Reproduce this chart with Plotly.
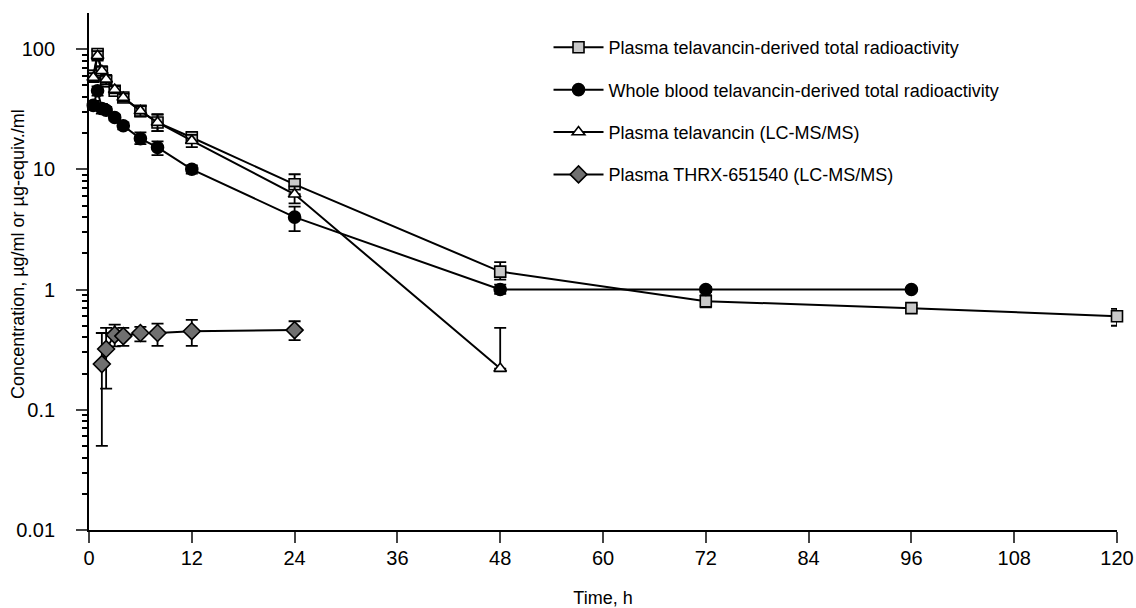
import plotly.graph_objects as go

# ---- data ----
t_plasma_tr = [0.5, 1, 1.5, 2, 3, 4, 6, 8, 12, 24, 48, 72, 96, 120]
plasma_tr = [60, 91, 64, 54, 45, 39.6, 30.6, 24.5, 18.4, 7.5, 1.41, 0.80, 0.70, 0.60]
plasma_tr_up = [6, 8, 6, 5, 3, 3, 3, 4.2, 2.1, 1.6, 0.28, 0.10, 0.04, 0.09]
plasma_tr_dn = [6, 8, 6, 5, 3, 3, 3, 3.7, 1.9, 1.3, 0.20, 0.09, 0.04, 0.10]

t_blood = [0.5, 1, 1.5, 2, 3, 4, 6, 8, 12, 24, 48, 72, 96]
blood_tr = [34, 45, 32, 31, 27, 23, 18, 15.2, 10, 4.0, 1.0, 1.0, 1.0]
blood_up = [3, 4, 3, 2, 1.5, 1.5, 2.3, 1.9, 0.8, 0.9, 0.1, 0.05, 0.02]
blood_dn = [3, 4, 3, 2, 1.5, 1.5, 1.8, 2.1, 0.8, 0.94, 0.08, 0.05, 0.02]

t_tel = [0.5, 1, 1.5, 2, 3, 4, 6, 8, 12, 24, 48]
plasma_tel = [58, 88, 66, 56, 46, 39.6, 30.6, 24.5, 17.3, 6.2, 0.22]
tel_up = [5, 8, 6, 5, 3, 3, 3, 4, 2, 1, 0.26]
tel_dn = [5, 8, 6, 5, 3, 3, 3, 3.7, 2, 1, 0]

t_thrx = [1.5, 2, 3, 4, 6, 8, 12, 24]
plasma_thrx = [0.24, 0.32, 0.42, 0.41, 0.435, 0.435, 0.45, 0.46]
thrx_up = [0.195, 0.16, 0.09, 0.07, 0.055, 0.085, 0.11, 0.085]
thrx_dn = [0.19, 0.17, 0.083, 0.07, 0.065, 0.095, 0.11, 0.08]

names = [
    "Plasma telavancin-derived total radioactivity",
    "Whole blood telavancin-derived total radioactivity",
    "Plasma telavancin (LC-MS/MS)",
    "Plasma THRX-651540 (LC-MS/MS)",
]

x_ticks = [0, 12, 24, 36, 48, 60, 72, 84, 96, 108, 120]
y_ticks = [0.01, 0.1, 1, 10, 100]
y_ticktext = ["0.01", "0.1", "1", "10", "100"]

y_title = "Concentration, µg/ml or µg-equiv./ml"
x_title = "Time, h"

FONT = "Arial, Liberation Sans, sans-serif"

series = [
    (t_plasma_tr, plasma_tr, plasma_tr_up, plasma_tr_dn, "square", "#c8c8c8", 11),
    (t_blood, blood_tr, blood_up, blood_dn, "circle", "#000000", 12),
    (t_tel, plasma_tel, tel_up, tel_dn, "triangle-up", "#ffffff", 11),
    (t_thrx, plasma_thrx, thrx_up, thrx_dn, "diamond", "#707070", 13),
]

fig = go.Figure()
for i, (t, y, up, dn, sym, fill, size) in enumerate(series):
    fig.add_trace(go.Scatter(
        x=t, y=y, name=names[i], mode="lines+markers",
        legendgroup=f"g{i}",
        line=dict(color="black", width=2),
        marker=dict(symbol=sym, size=size, color=fill,
                    line=dict(color="black", width=1.6)),
        error_y=dict(type="data", symmetric=False, array=up, arrayminus=dn,
                     color="black", thickness=1.8, width=6),
        cliponaxis=False,
    ))

fig.update_layout(
    width=1136, height=608,
    margin=dict(l=89, r=19, t=13, b=78, autoexpand=False),
    paper_bgcolor="white", plot_bgcolor="white",
    font=dict(family=FONT, size=18, color="black"),
    showlegend=True,
    legend=dict(x=0.447, y=0.969, xanchor="left", yanchor="top",
                traceorder="grouped", tracegroupgap=16,
                font=dict(family=FONT, size=18, color="black"),
                bgcolor="rgba(0,0,0,0)", itemwidth=50),
    xaxis=dict(range=[0, 120], tickvals=x_ticks, ticks="outside", ticklen=11,
               tickwidth=1.8, showline=True, linecolor="black", linewidth=1.8,
               showgrid=False, zeroline=False, automargin=False,
               tickfont=dict(size=20), ticklabelstandoff=-2,
               title=dict(text=x_title, font=dict(size=18), standoff=26)),
    yaxis=dict(type="log", range=[-2, 2.3], tickvals=y_ticks, ticktext=y_ticktext,
               ticks="outside", ticklen=11, tickwidth=1.8,
               showline=True, linecolor="black", linewidth=1.8,
               showgrid=False, zeroline=False, automargin=False,
               tickfont=dict(size=20), ticklabelstandoff=17,
               minor=dict(ticks="outside", ticklen=5, tickwidth=1.5,
                          tickcolor="black", showgrid=False,
                          tickvals=[m * 10 ** e for e in range(-2, 3) for m in range(2, 10) if m * 10 ** e < 200])),
    annotations=[dict(text=y_title, xref="paper", yref="paper",
                      x=-0.0691, y=0.534, xanchor="center", yanchor="middle",
                      textangle=-90, showarrow=False,
                      font=dict(family=FONT, size=18, color="black"))],
)

fig.write_html("out.html")
